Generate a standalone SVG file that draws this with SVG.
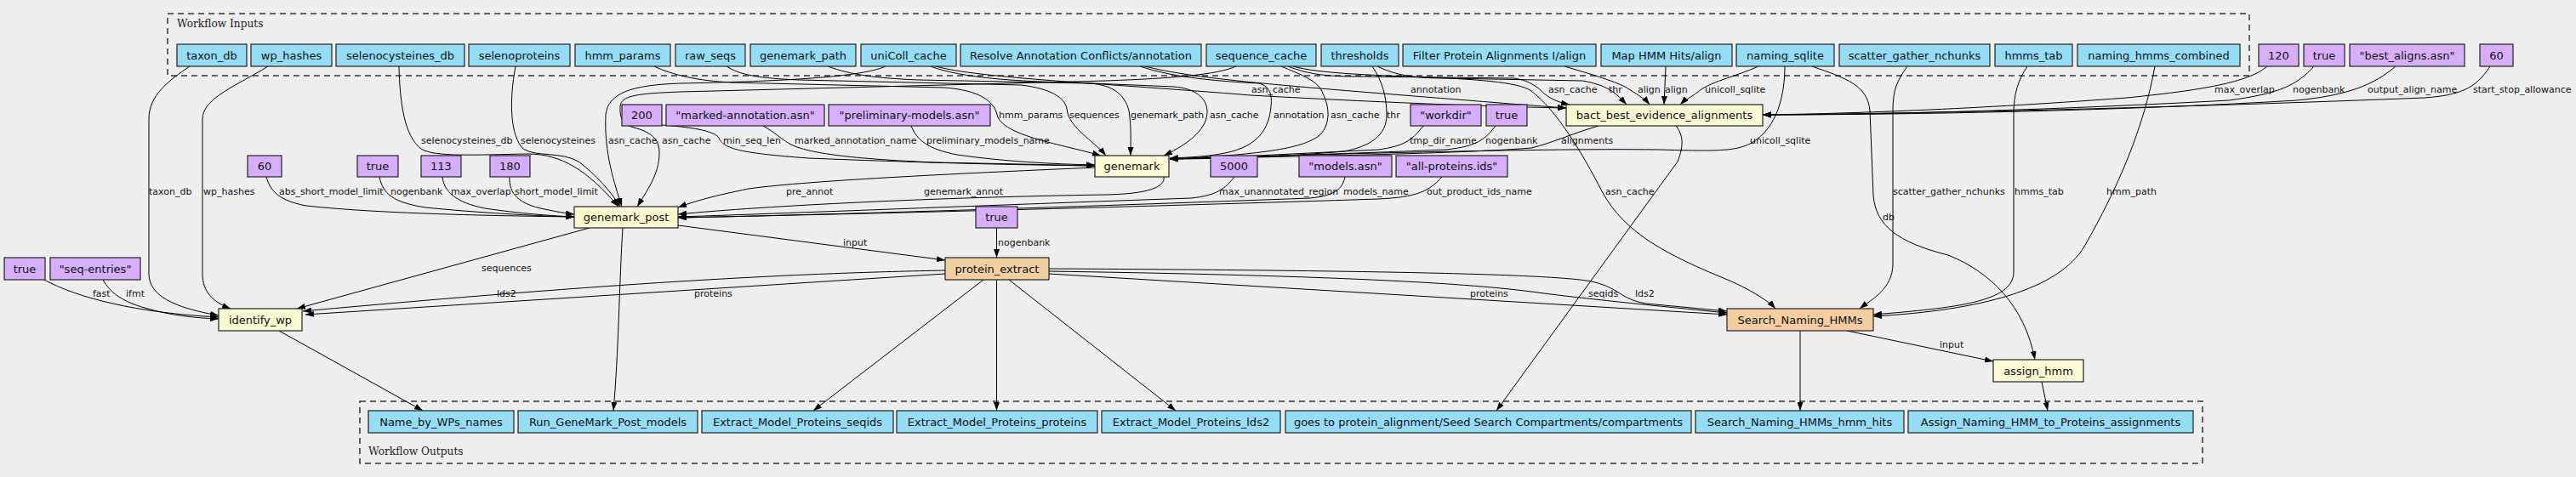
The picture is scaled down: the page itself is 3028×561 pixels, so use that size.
<svg xmlns="http://www.w3.org/2000/svg" width="3028" height="561" viewBox="0 0 3028 561">
<defs>
<style>
.bg{fill:#eeeeee}
.cl{fill:none;stroke:#333;stroke-width:1.5;stroke-dasharray:7,5}
.clt{font-family:"DejaVu Serif","Liberation Serif",serif;font-size:12.2px;fill:#222}
.n rect{stroke:#222;stroke-width:1.2}
.n text{font-family:"DejaVu Sans","Liberation Sans",sans-serif;font-size:13px;text-anchor:middle;fill:#111}
.in rect{fill:#94DDF4}
.dv rect{fill:#D5AEFC}
.st rect{fill:#FAFAD2}
.sw rect{fill:#F3CEA1}
.out rect{fill:#94DDF4}
#edges path{fill:none;stroke:#000;stroke-width:1;marker-end:url(#ah)}
#edges text{font-family:"DejaVu Sans","Liberation Sans",sans-serif;font-size:11px;fill:#111}
</style>
<marker id="ah" markerUnits="userSpaceOnUse" markerWidth="10" markerHeight="7" refX="10" refY="3.5" orient="auto"><path d="M0,0 L10,3.5 L0,7 z" fill="#000"/></marker>
</defs>
<rect class="bg" x="0" y="0" width="3028" height="561"/>
<g id="cluster_inputs"><rect class="cl" x="197" y="16" width="2447" height="73"/><text class="clt" x="208" y="32">Workflow Inputs</text></g>
<g id="cluster_outputs"><rect class="cl" x="423" y="472" width="2166" height="73"/><text class="clt" x="433" y="535">Workflow Outputs</text></g>

<g id="edges">
<path d="M223,78 C198,95 175,112 175,140 L175,322 C175,348 205,362 257,371"/><text x="175" y="229">taxon_db</text>
<path d="M315,78 C280,100 238,115 238,140 L238,322 C238,343 250,355 271,363"/><text x="239" y="229">wp_hashes</text>
<path d="M52,329 C90,350 160,368 257,373"/><text x="109" y="349">fast</text>
<path d="M121,329 C130,345 145,355 170,362 C200,371 230,374 257,375"/><text x="148" y="349">ifmt</text>
<path d="M693,268 L349,363"/><text x="566" y="319">sequences</text>
<path d="M1111,318 C950,321 750,330 356,366"/><text x="584" y="349">lds2</text>
<path d="M1111,322 L359,370"/><text x="816" y="349">proteins</text>
<path d="M732,268 C728,330 727,420 721,483"/>
<path d="M328,389 L497,483"/>
<path d="M797,265 L1111,306"/><text x="991" y="289">input</text>
<path d="M1171.5,268 L1171.5,303"/><text x="1173" y="289">nogenbank</text>
<path d="M1156,329 L956,483"/>
<path d="M1171.5,329 L1171.5,483"/>
<path d="M1186,329 L1382,483"/>
<path d="M1233,316 C1600,318 1840,322 1875,332 C1905,340 1905,352 1935,357 L2030,366"/><text x="1922" y="349">lds2</text>
<path d="M1233,319 C1500,323 1700,330 1800,343 C1850,350 1950,360 2030,368"/><text x="1867" y="349">seqids</text>
<path d="M1233,322 L2030,370"/><text x="1728" y="349">proteins</text>
<path d="M2116,389 L2116,483"/>
<path d="M2171,389 L2343,425"/><text x="2280" y="409">input</text>
<path d="M2400,449 L2407,483"/>
<path d="M2130,78 C2170,92 2195,100 2198,130 L2202,230 C2205,265 2230,285 2290,300 C2340,320 2380,360 2392,423"/><text x="2213" y="259">db</text>
<path d="M2242,78 C2230,95 2225,105 2225,130 L2225,310 C2225,340 2200,352 2186,363"/><text x="2225" y="229">scatter_gather_nchunks</text>
<path d="M2383,78 C2372,95 2367,110 2367,135 L2367,320 C2367,355 2300,362 2202,370"/><text x="2368" y="229">hmms_tab</text>
<path d="M2533,78 C2520,150 2490,220 2450,290 C2420,340 2330,365 2202,372"/><text x="2476" y="229">hmm_path</text>
<path d="M1520,78 C1580,95 1770,85 1800,107 C1830,130 1860,180 1883,225 C1910,275 1960,300 2033,330 C2060,342 2080,355 2087,363"/><text x="1887" y="229">asn_cache</text>
<path d="M1970,148 C1978,158 1980,170 1972,190 L1759,483"/>
<path d="M2665,78 C2645,95 2600,105 2500,115 C2300,130 2150,134 2072,135"/><text x="2603" y="109">max_overlap</text>
<path d="M2720,78 C2700,100 2680,110 2620,118 C2400,130 2200,135 2072,135"/><text x="2695" y="109">nogenbank</text>
<path d="M2816,78 C2790,100 2760,112 2700,118 C2500,130 2250,135 2072,135"/><text x="2783" y="109">output_align_name</text>
<path d="M2927,78 C2910,105 2890,112 2850,115 C2600,125 2300,133 2072,135"/><text x="2907" y="109">start_stop_allowance</text>
<path d="M2067,78 C2040,90 2015,95 2000,105 C1990,113 1980,118 1975,123"/><text x="2004" y="109">unicoll_sqlite</text>
<path d="M1958,78 L1956,123"/><text x="1957" y="109">align</text>
<path d="M1839,78 C1880,90 1905,98 1915,105 C1928,113 1935,118 1939,123"/><text x="1925" y="109">align</text>
<path d="M1619,78 C1640,88 1660,92 1700,92 L1860,95 C1890,100 1900,110 1912,123"/><text x="1891" y="109">thr</text>
<path d="M1514,78 C1540,88 1560,90 1600,90 L1780,92 C1800,95 1810,105 1815,110 C1825,118 1835,121 1845,123"/><text x="1820" y="109">asn_cache</text>
<path d="M1346,78 C1400,92 1500,100 1650,112 C1750,120 1800,124 1841,127"/><text x="1658" y="109">annotation</text>
<path d="M1100,78 C1150,92 1300,98 1470,112 C1650,122 1780,126 1841,127"/><text x="1471" y="109">asn_cache</text>
<path d="M769,78 C790,88 820,95 860,97 L1110,103 C1150,106 1168,118 1172,135 C1178,160 1250,170 1294,183"/><text x="1174" y="139">hmm_params</text>
<path d="M854,78 C870,88 890,92 940,94 L1200,100 C1235,104 1252,115 1254,128 C1256,150 1285,165 1300,183"/><text x="1257" y="139">sequences</text>
<path d="M973,78 C1000,88 1030,92 1080,94 L1280,98 C1310,100 1322,112 1327,130 C1330,150 1329,165 1329,183"/><text x="1329" y="139">genemark_path</text>
<path d="M1094,78 C1130,92 1200,96 1260,97 L1380,102 C1405,104 1418,115 1419,130 C1420,150 1400,168 1368,183"/><text x="1422" y="139">asn_cache</text>
<path d="M1340,78 C1380,92 1440,96 1480,98 C1495,102 1495,115 1494,125 C1492,150 1480,172 1440,180 C1420,184 1400,185 1375,186"/><text x="1497" y="139">annotation</text>
<path d="M1506,78 C1530,88 1550,95 1555,110 C1565,130 1562,150 1550,160 C1530,175 1480,182 1375,187"/><text x="1564" y="139">asn_cache</text>
<path d="M1613,78 C1625,95 1630,115 1630,135 C1630,160 1610,172 1580,178 C1500,185 1420,187 1375,187"/><text x="1630" y="139">thr</text>
<path d="M1673,148 C1660,165 1650,172 1620,176 C1500,182 1420,186 1375,187"/><text x="1657" y="169">tmp_dir_name</text>
<path d="M1758,148 C1745,165 1735,172 1700,176 C1550,182 1420,186 1375,187"/><text x="1746" y="169">nogenbank</text>
<path d="M1879,148 C1845,158 1825,168 1800,174 C1700,182 1450,185 1375,187"/><text x="1835" y="169">alignments</text>
<path d="M2098,78 C2098,110 2090,150 2059,168 C2040,178 2020,178 1950,176 C1800,174 1500,183 1375,187"/><text x="2057" y="169">unicoll_sqlite</text>
<path d="M778,147 C820,150 840,155 845,162 C850,175 870,180 950,186 C1100,192 1200,194 1287,195"/><text x="850" y="169">min_seq_len</text>
<path d="M897,148 C910,155 920,165 930,170 C950,180 1000,187 1100,191 C1200,193 1250,194 1287,195"/><text x="934" y="169">marked_annotation_name</text>
<path d="M1071,148 C1078,165 1090,175 1125,182 C1180,190 1240,193 1287,194"/><text x="1089" y="169">preliminary_models_name</text>
<path d="M1287,197 C1150,203 950,212 880,222 C840,230 815,237 797,244"/><text x="924" y="229">pre_annot</text>
<path d="M1368,208 C1370,220 1350,228 1300,229 C1100,232 900,242 797,252"/><text x="1086" y="229">genemark_annot</text>
<path d="M1451,208 C1440,222 1430,230 1400,233 C1200,240 950,250 797,255"/><text x="1433" y="229">max_unannotated_region</text>
<path d="M1581,208 C1578,222 1570,230 1540,233 C1300,242 1000,252 797,256"/><text x="1579" y="229">models_name</text>
<path d="M1695,208 C1680,225 1665,232 1620,234 C1350,243 1000,252 797,256"/><text x="1677" y="229">out_product_ids_name</text>
<path d="M313,208 C318,225 328,236 360,242 C450,252 600,254 675,255"/><text x="328" y="229">abs_short_model_limit</text>
<path d="M446,208 C450,228 462,238 500,244 C560,250 630,254 675,255"/><text x="459" y="229">nogenbank</text>
<path d="M520,208 C522,225 535,238 570,245 C610,251 650,254 675,255"/><text x="530" y="229">max_overlap</text>
<path d="M599,208 C598,228 610,240 640,246 C655,249 665,251 675,252"/><text x="605" y="229">short_model_limit</text>
<path d="M469,78 C470,120 475,160 495,175 C510,185 560,182 620,181 C660,181 690,200 727,243"/><text x="495" y="169">selenocysteines_db</text>
<path d="M606,78 C598,120 600,160 615,175 C630,185 660,178 680,190 C700,205 718,225 729,243"/><text x="612" y="169">selenocysteines</text>
<path d="M1041,78 C1010,92 900,96 800,98 C740,100 715,110 712,135 C710,180 722,215 731,243"/><text x="715" y="169">asn_cache</text>
<path d="M1453,78 C1430,88 1380,92 1300,95 L800,108 C750,110 730,112 729,125 C728,140 733,147 745,150 C765,155 775,163 775,180 C775,205 760,225 749,243"/><text x="778" y="169">asn_cache</text>
</g>

<g id="n_taxon_db" class="n in"><rect x="208" y="52" width="82" height="26"/><text x="249" y="69.5">taxon_db</text></g>
<g id="n_wp_hashes" class="n in"><rect x="295" y="52" width="95" height="26"/><text x="342.5" y="69.5">wp_hashes</text></g>
<g id="n_selenocysteines_db" class="n in"><rect x="395" y="52" width="151" height="26"/><text x="470.5" y="69.5">selenocysteines_db</text></g>
<g id="n_selenoproteins" class="n in"><rect x="551" y="52" width="119" height="26"/><text x="610.5" y="69.5">selenoproteins</text></g>
<g id="n_hmm_params" class="n in"><rect x="676" y="52" width="112" height="26"/><text x="732" y="69.5">hmm_params</text></g>
<g id="n_raw_seqs" class="n in"><rect x="794" y="52" width="82" height="26"/><text x="835" y="69.5">raw_seqs</text></g>
<g id="n_genemark_path" class="n in"><rect x="882" y="52" width="124" height="26"/><text x="944" y="69.5">genemark_path</text></g>
<g id="n_uniColl_cache" class="n in"><rect x="1012" y="52" width="112" height="26"/><text x="1068" y="69.5">uniColl_cache</text></g>
<g id="n_resolve_annotation" class="n in"><rect x="1129" y="52" width="283" height="26"/><text x="1270.5" y="69.5">Resolve Annotation Conflicts/annotation</text></g>
<g id="n_sequence_cache" class="n in"><rect x="1418" y="52" width="129" height="26"/><text x="1482.5" y="69.5">sequence_cache</text></g>
<g id="n_thresholds" class="n in"><rect x="1553" y="52" width="91" height="26"/><text x="1598.5" y="69.5">thresholds</text></g>
<g id="n_filter_align" class="n in"><rect x="1649" y="52" width="227" height="26"/><text x="1762.5" y="69.5">Filter Protein Alignments I/align</text></g>
<g id="n_map_hmm_align" class="n in"><rect x="1882" y="52" width="154" height="26"/><text x="1959" y="69.5">Map HMM Hits/align</text></g>
<g id="n_naming_sqlite" class="n in"><rect x="2041" y="52" width="115" height="26"/><text x="2098.5" y="69.5">naming_sqlite</text></g>
<g id="n_scatter_gather_nchunks" class="n in"><rect x="2162" y="52" width="177" height="26"/><text x="2250.5" y="69.5">scatter_gather_nchunks</text></g>
<g id="n_hmms_tab" class="n in"><rect x="2345" y="52" width="91" height="26"/><text x="2390.5" y="69.5">hmms_tab</text></g>
<g id="n_naming_hmms_combined" class="n in"><rect x="2442" y="52" width="191" height="26"/><text x="2537.5" y="69.5">naming_hmms_combined</text></g>

<g id="d_bact_120" class="n dv"><rect x="2655" y="52" width="47" height="26"/><text x="2678.5" y="69.5">120</text></g>
<g id="d_bact_true" class="n dv"><rect x="2708" y="52" width="48" height="26"/><text x="2732" y="69.5">true</text></g>
<g id="d_bact_best_aligns" class="n dv"><rect x="2762" y="52" width="135" height="26"/><text x="2829.5" y="69.5">"best_aligns.asn"</text></g>
<g id="d_bact_60" class="n dv"><rect x="2915" y="52" width="39" height="26"/><text x="2934.5" y="69.5">60</text></g>

<g id="d_gm_200" class="n dv"><rect x="731" y="123" width="47" height="25"/><text x="754.5" y="140">200</text></g>
<g id="d_gm_marked" class="n dv"><rect x="783" y="123" width="186" height="25"/><text x="876" y="140">"marked-annotation.asn"</text></g>
<g id="d_gm_prelim" class="n dv"><rect x="974" y="123" width="190" height="25"/><text x="1069" y="140">"preliminary-models.asn"</text></g>
<g id="d_gm_workdir" class="n dv"><rect x="1658" y="123" width="83" height="25"/><text x="1699.5" y="140">"workdir"</text></g>
<g id="d_gm_true" class="n dv"><rect x="1747" y="123" width="48" height="25"/><text x="1771" y="140">true</text></g>
<g id="s_bact_best_evidence_alignments" class="n st"><rect x="1841" y="123" width="231" height="25"/><text x="1956.5" y="140">bact_best_evidence_alignments</text></g>

<g id="d_gp_60" class="n dv"><rect x="291" y="183" width="40" height="25"/><text x="311" y="200">60</text></g>
<g id="d_gp_true" class="n dv"><rect x="420" y="183" width="48" height="25"/><text x="444" y="200">true</text></g>
<g id="d_gp_113" class="n dv"><rect x="495" y="183" width="47" height="25"/><text x="518.5" y="200">113</text></g>
<g id="d_gp_180" class="n dv"><rect x="576" y="183" width="47" height="25"/><text x="599.5" y="200">180</text></g>
<g id="s_genemark" class="n st"><rect x="1287" y="183" width="87" height="25"/><text x="1330.5" y="200">genemark</text></g>
<g id="d_gp_5000" class="n dv"><rect x="1423" y="183" width="55" height="25"/><text x="1450.5" y="200">5000</text></g>
<g id="d_gp_models" class="n dv"><rect x="1527" y="183" width="109" height="25"/><text x="1581.5" y="200">"models.asn"</text></g>
<g id="d_gp_allprot" class="n dv"><rect x="1641" y="183" width="131" height="25"/><text x="1706.5" y="200">"all-proteins.ids"</text></g>

<g id="s_genemark_post" class="n st"><rect x="675" y="243" width="122" height="25"/><text x="736" y="260">genemark_post</text></g>
<g id="d_pe_true" class="n dv"><rect x="1147" y="243" width="49" height="25"/><text x="1171.5" y="260">true</text></g>

<g id="d_iw_true" class="n dv"><rect x="5" y="303" width="48" height="26"/><text x="29" y="320.5">true</text></g>
<g id="d_iw_seqentries" class="n dv"><rect x="59" y="303" width="106" height="26"/><text x="112" y="320.5">"seq-entries"</text></g>
<g id="s_protein_extract" class="n sw"><rect x="1111" y="303" width="122" height="26"/><text x="1172" y="320.5">protein_extract</text></g>

<g id="s_identify_wp" class="n st"><rect x="257" y="363" width="98" height="26"/><text x="306" y="380.5">identify_wp</text></g>
<g id="s_Search_Naming_HMMs" class="n sw"><rect x="2030" y="363" width="172" height="26"/><text x="2116" y="380.5">Search_Naming_HMMs</text></g>
<g id="s_assign_hmm" class="n st"><rect x="2343" y="423" width="106" height="26"/><text x="2396" y="440.5">assign_hmm</text></g>

<g id="o_Name_by_WPs_names" class="n out"><rect x="433" y="483" width="171" height="26"/><text x="518.5" y="500.5">Name_by_WPs_names</text></g>
<g id="o_Run_GeneMark_Post_models" class="n out"><rect x="609" y="483" width="211" height="26"/><text x="714.5" y="500.5">Run_GeneMark_Post_models</text></g>
<g id="o_Extract_seqids" class="n out"><rect x="825" y="483" width="225" height="26"/><text x="937.5" y="500.5">Extract_Model_Proteins_seqids</text></g>
<g id="o_Extract_proteins" class="n out"><rect x="1054" y="483" width="236" height="26"/><text x="1172" y="500.5">Extract_Model_Proteins_proteins</text></g>
<g id="o_Extract_lds2" class="n out"><rect x="1295" y="483" width="210" height="26"/><text x="1400" y="500.5">Extract_Model_Proteins_lds2</text></g>
<g id="o_compartments" class="n out"><rect x="1511" y="483" width="477" height="26"/><text x="1749.5" y="500.5">goes to protein_alignment/Seed Search Compartments/compartments</text></g>
<g id="o_hmm_hits" class="n out"><rect x="1993" y="483" width="245" height="26"/><text x="2115.5" y="500.5">Search_Naming_HMMs_hmm_hits</text></g>
<g id="o_assignments" class="n out"><rect x="2243" y="483" width="335" height="26"/><text x="2410.5" y="500.5">Assign_Naming_HMM_to_Proteins_assignments</text></g>
</svg>
